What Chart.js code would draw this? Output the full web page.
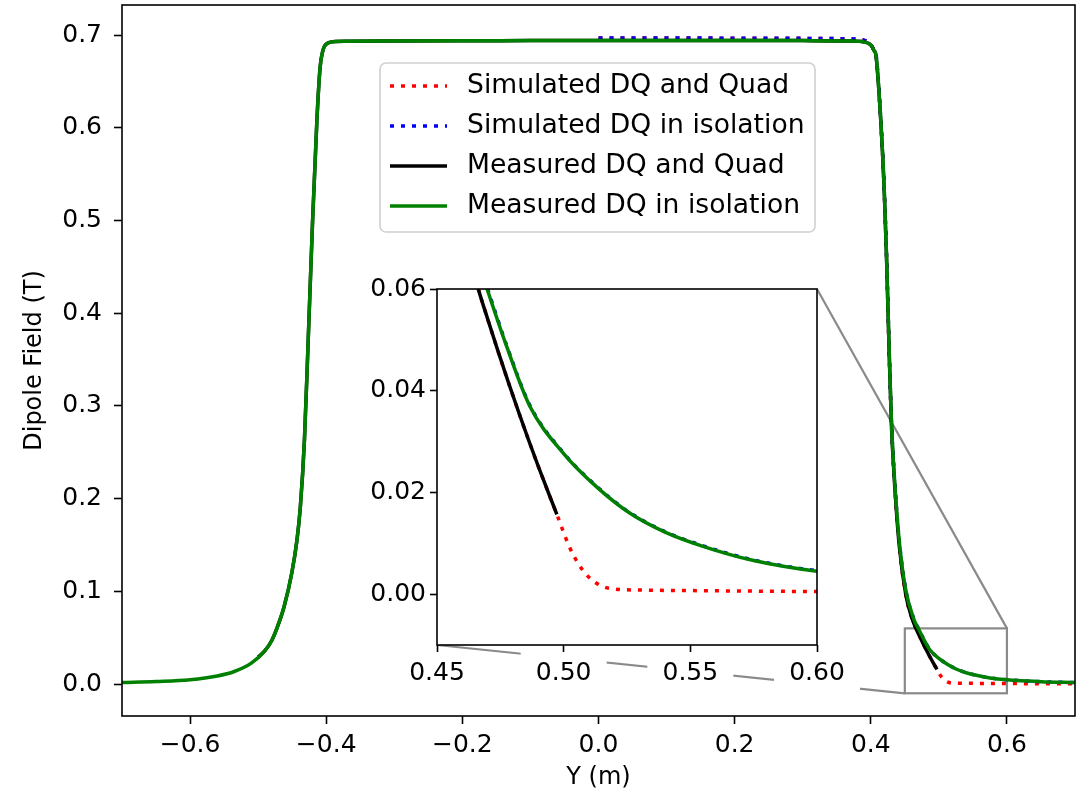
<!DOCTYPE html>
<html>
<head>
<meta charset="utf-8">
<script src="https://cdn.jsdelivr.net/npm/chart.js@4.4.0/dist/chart.umd.min.js"></script>
<style>
  html, body { margin: 0; padding: 0; background: #fff; }
  #wrap { position: relative; width: 1078px; height: 798px; }
  #main { position: absolute; left: 0; top: 0; }
  #inset { position: absolute; left: 340px; top: 270px; }
</style>
</head>
<body>
<div id="wrap">
  <canvas id="main" width="1078" height="798"></canvas>
  <canvas id="inset" width="540" height="440"></canvas>
</div>
<script>
// ---- Series data: longitudinal position Y (m) and dipole field (T) ----
const seriesLabels = ['Simulated DQ and Quad', 'Simulated DQ in isolation', 'Measured DQ and Quad', 'Measured DQ in isolation'];
const xTitle = 'Y (m)';
const yTitle = 'Dipole Field (T)';

const simQuadY = [0.00, 0.10, 0.20, 0.30, 0.37, 0.39, 0.397, 0.4015, 0.405, 0.4074, 0.4147, 0.4196, 0.423, 0.427, 0.4304, 0.4343, 0.4417, 0.4515, 0.460, 0.4663, 0.470, 0.474, 0.478, 0.482, 0.486, 0.490, 0.494, 0.4973, 0.502, 0.506, 0.510, 0.515, 0.520, 0.530, 0.550, 0.575, 0.600, 0.650, 0.700];
const simQuadB = [0.6968, 0.6968, 0.6966, 0.6964, 0.6958, 0.6945, 0.692, 0.688, 0.683, 0.679, 0.607, 0.535, 0.463, 0.358, 0.279, 0.224, 0.150, 0.096, 0.072, 0.0600, 0.0541, 0.0479, 0.0419, 0.0361, 0.0305, 0.0251, 0.0199, 0.0157, 0.0096, 0.0058, 0.0033, 0.0016, 0.0010, 0.0008, 0.0007, 0.0006, 0.0005, 0.0003, 0.0002];

const simIsoY = [0.00, 0.10, 0.20, 0.30, 0.37, 0.39, 0.397, 0.4015, 0.405, 0.4074, 0.4147, 0.4196, 0.423, 0.427, 0.4304, 0.4343, 0.4417, 0.4515, 0.4637, 0.4699, 0.4775, 0.4867, 0.4999, 0.513, 0.5262, 0.540, 0.555, 0.575, 0.600, 0.650, 0.700];
const simIsoB = [0.6968, 0.6968, 0.6966, 0.6964, 0.6958, 0.6945, 0.692, 0.688, 0.683, 0.680, 0.609, 0.537, 0.466, 0.361, 0.282, 0.228, 0.156, 0.1015, 0.0694, 0.0601, 0.0489, 0.0371, 0.0278, 0.0212, 0.0160, 0.0123, 0.0095, 0.0067, 0.0046, 0.0025, 0.0015];

const measQuadY = [-0.50, -0.49, -0.48, -0.4725, -0.462, -0.4505, -0.443, -0.438, -0.432, -0.427, -0.420, -0.4137, -0.409, -0.405, -0.4015, -0.397, -0.39, -0.37, -0.30, -0.20, -0.10, 0.00, 0.10, 0.20, 0.30, 0.37, 0.39, 0.397, 0.4015, 0.405, 0.4074, 0.4147, 0.4196, 0.423, 0.427, 0.4304, 0.4343, 0.4417, 0.4515, 0.460, 0.4663, 0.470, 0.474, 0.478, 0.482, 0.486, 0.490, 0.494, 0.4973];
const measQuadB = [0.029, 0.036, 0.047, 0.060, 0.083, 0.120, 0.155, 0.191, 0.263, 0.360, 0.500, 0.608, 0.665, 0.683, 0.689, 0.6915, 0.6928, 0.6932, 0.6935, 0.6938, 0.694, 0.6942, 0.6942, 0.6942, 0.694, 0.6935, 0.6925, 0.691, 0.688, 0.683, 0.679, 0.607, 0.535, 0.463, 0.358, 0.279, 0.224, 0.150, 0.096, 0.072, 0.0600, 0.0541, 0.0479, 0.0419, 0.0361, 0.0305, 0.0251, 0.0199, 0.0157];

const measIsoY = [-0.70, -0.65, -0.60, -0.56, -0.535, -0.51, -0.49, -0.48, -0.4725, -0.462, -0.4505, -0.443, -0.438, -0.432, -0.427, -0.420, -0.4137, -0.409, -0.405, -0.4015, -0.397, -0.39, -0.37, -0.30, -0.20, -0.10, 0.00, 0.10, 0.20, 0.30, 0.37, 0.39, 0.397, 0.4015, 0.405, 0.4074, 0.4147, 0.4196, 0.423, 0.427, 0.4304, 0.4343, 0.4417, 0.4515, 0.4637, 0.4699, 0.4775, 0.4867, 0.4999, 0.513, 0.5262, 0.540, 0.555, 0.575, 0.600, 0.650, 0.700];
const measIsoB = [0.0015, 0.0026, 0.0045, 0.0086, 0.0135, 0.0225, 0.036, 0.047, 0.060, 0.083, 0.120, 0.155, 0.191, 0.263, 0.360, 0.500, 0.608, 0.665, 0.683, 0.689, 0.6915, 0.6928, 0.6932, 0.6935, 0.6938, 0.694, 0.6942, 0.6942, 0.6942, 0.694, 0.6935, 0.6925, 0.691, 0.688, 0.683, 0.679, 0.608, 0.5365, 0.4646, 0.360, 0.281, 0.227, 0.155, 0.101, 0.069, 0.0598, 0.0487, 0.0369, 0.0277, 0.0211, 0.0159, 0.0122, 0.0094, 0.0066, 0.0045, 0.0025, 0.0015];

// ---- Axis ticks ----
const xTickValues = [-0.6, -0.4, -0.2, 0.0, 0.2, 0.4, 0.6];
const xTickLabels = ['\u22120.6', '\u22120.4', '\u22120.2', '0.0', '0.2', '0.4', '0.6'];
const yTickValues = [0.0, 0.1, 0.2, 0.3, 0.4, 0.5, 0.6, 0.7];
const yTickLabels = ['0.0', '0.1', '0.2', '0.3', '0.4', '0.5', '0.6', '0.7'];
const zoomXTickValues = [0.45, 0.50, 0.55, 0.60];
const zoomXTickLabels = ['0.45', '0.50', '0.55', '0.60'];
const zoomYTickValues = [0.00, 0.02, 0.04, 0.06];
const zoomYTickLabels = ['0.00', '0.02', '0.04', '0.06'];

// zoom window (data units)
const zoomX = [0.45, 0.60];
const zoomB = [-0.01, 0.06];

Chart.defaults.font.family = "'DejaVu Sans', sans-serif";
Chart.defaults.color = '#000';

const FONT = 25;

function pts(xs, ys) { return xs.map((x, i) => ({ x: x, y: ys[i] })); }

function makeDatasets() {
  const common = { pointRadius: 0, pointHoverRadius: 0, borderWidth: 3.5, cubicInterpolationMode: 'monotone', fill: false, clip: 0, borderCapStyle: 'butt' };
  return [
    Object.assign({ label: seriesLabels[0], data: pts(simQuadY, simQuadB), borderColor: '#ff0000', borderDash: [4, 7], order: 4 }, common),
    Object.assign({ label: seriesLabels[1], data: pts(simIsoY, simIsoB), borderColor: '#0000ff', borderDash: [4, 7], order: 3 }, common),
    Object.assign({ label: seriesLabels[2], data: pts(measQuadY, measQuadB), borderColor: '#000000', order: 2 }, common),
    Object.assign({ label: seriesLabels[3], data: pts(measIsoY, measIsoB), borderColor: '#008000', order: 1 }, common)
  ];
}

function axis(min, max, values, labels, tickLen, pad, horizontal, fitVal, title) {
  return {
    type: 'linear', min: min, max: max,
    afterBuildTicks: s => { s.ticks = values.map(v => ({ value: v })); },
    afterFit: s => {
      if (horizontal) { s.height = fitVal; s.paddingLeft = 0; s.paddingRight = 0; }
      else { s.width = fitVal; s.paddingTop = 0; s.paddingBottom = 0; }
    },
    ticks: { callback: (v, i) => labels[i], padding: pad, color: '#000', font: { size: FONT }, maxRotation: 0, autoSkip: false },
    grid: { display: true, drawOnChartArea: false, drawTicks: true, tickLength: tickLen, tickWidth: 1.6, tickColor: '#000' },
    border: { display: false },
    title: title || { display: false }
  };
}

const framePlugin = {
  id: 'frame',
  afterDatasetsDraw(chart) {
    const a = chart.chartArea, ctx = chart.ctx;
    ctx.save();
    ctx.strokeStyle = '#000';
    ctx.lineWidth = 1.6;
    ctx.strokeRect(a.left, a.top, a.right - a.left, a.bottom - a.top);
    ctx.restore();
  }
};

// ---- Zoomed view of the exit fringe ----
const insetCanvas = document.getElementById('inset');
const insetChart = new Chart(insetCanvas, {
  type: 'line',
  data: { datasets: makeDatasets() },
  options: {
    responsive: false, animation: false, events: [],
    layout: { padding: { left: 0, top: 19, right: 63, bottom: 0 } },
    plugins: { legend: { display: false }, tooltip: { enabled: false } },
    scales: {
      x: axis(zoomX[0], zoomX[1], zoomXTickValues, zoomXTickLabels, 7, 6, true, 65),
      y: axis(zoomB[0], zoomB[1], zoomYTickValues, zoomYTickLabels, 7, 4, false, 97)
    }
  },
  plugins: [framePlugin, {
    id: 'insetBackground',
    beforeDraw(chart) {
      const a = chart.chartArea, ctx = chart.ctx;
      ctx.save();
      ctx.fillStyle = '#fff';
      ctx.fillRect(a.left, a.top, a.right - a.left, a.bottom - a.top);
      // white boxes behind the x tick labels
      const sx = chart.scales.x;
      sx.ticks.forEach(t => {
        const px = sx.getPixelForValue(t.value);
        ctx.fillRect(px - 43, a.bottom + 7, 86, 44);
      });
      ctx.restore();
    }
  }]
});

// ---- Main chart ----
const mainChart = new Chart(document.getElementById('main'), {
  type: 'line',
  data: { datasets: makeDatasets() },
  options: {
    responsive: false, animation: false, events: [],
    layout: { padding: { left: 0, top: 5, right: 3, bottom: 0 } },
    plugins: { legend: { display: false }, tooltip: { enabled: false } },
    scales: {
      x: axis(-0.7, 0.7, xTickValues, xTickLabels, 8, 6, true, 82,
        { display: true, text: xTitle, font: { size: 24 }, color: '#000', padding: { top: 0, bottom: 6 } }),
      y: axis(-0.0345, 0.7324, yTickValues, yTickLabels, 8, 12, false, 122)
    }
  },
  plugins: [framePlugin, {
    id: 'yTitle',
    afterDraw(chart) {
      const ctx = chart.ctx, a = chart.chartArea;
      ctx.save();
      ctx.translate(35, (a.top + a.bottom) / 2);
      ctx.rotate(-Math.PI / 2);
      ctx.font = "24px 'DejaVu Sans', sans-serif";
      ctx.fillStyle = '#000';
      ctx.textAlign = 'center';
      ctx.textBaseline = 'middle';
      ctx.fillText(yTitle, 0, 0);
      ctx.restore();
    }
  }, {
    id: 'zoomIndicator',
    beforeDatasetsDraw(chart) {
      const ctx = chart.ctx, sx = chart.scales.x, sy = chart.scales.y;
      const x0 = sx.getPixelForValue(zoomX[0]), x1 = sx.getPixelForValue(zoomX[1]);
      const y0 = sy.getPixelForValue(zoomB[0]), y1 = sy.getPixelForValue(zoomB[1]);
      const ia = insetChart.chartArea;
      const ox = insetCanvas.offsetLeft, oy = insetCanvas.offsetTop;
      ctx.save();
      ctx.strokeStyle = '#8a8a8a';
      ctx.lineWidth = 2.2;
      ctx.strokeRect(x0, y1, x1 - x0, y0 - y1);
      ctx.beginPath();
      ctx.moveTo(ox + ia.right, oy + ia.top); ctx.lineTo(x1, y1);
      ctx.moveTo(ox + ia.left, oy + ia.bottom); ctx.lineTo(x0, y0);
      ctx.stroke();
      ctx.restore();
    }
  }, {
    id: 'boxLegend',
    afterDraw(chart) {
      const ctx = chart.ctx;
      const bx = 380, by = 63, bw = 435, bh = 169, r = 6;
      ctx.save();
      ctx.beginPath();
      ctx.moveTo(bx + r, by);
      ctx.arcTo(bx + bw, by, bx + bw, by + bh, r);
      ctx.arcTo(bx + bw, by + bh, bx, by + bh, r);
      ctx.arcTo(bx, by + bh, bx, by, r);
      ctx.arcTo(bx, by, bx + bw, by, r);
      ctx.closePath();
      ctx.fillStyle = 'rgba(255,255,255,0.8)';
      ctx.fill();
      ctx.strokeStyle = '#d0d0d0';
      ctx.lineWidth = 1.6;
      ctx.stroke();
      const rows = [86, 126, 166, 206];
      chart.data.datasets.forEach((ds, i) => {
        const y = rows[i];
        ctx.beginPath();
        ctx.setLineDash(ds.borderDash || []);
        ctx.lineCap = 'butt';
        ctx.strokeStyle = ds.borderColor;
        ctx.lineWidth = ds.borderWidth;
        ctx.moveTo(390, y); ctx.lineTo(447, y);
        ctx.stroke();
        ctx.setLineDash([]);
        ctx.fillStyle = '#000';
        ctx.font = "26.6px 'DejaVu Sans', sans-serif";
        ctx.textBaseline = 'middle';
        ctx.textAlign = 'left';
        ctx.fillText(ds.label, 467, y);
      });
      ctx.restore();
    }
  }]
});
</script>
</body>
</html>
